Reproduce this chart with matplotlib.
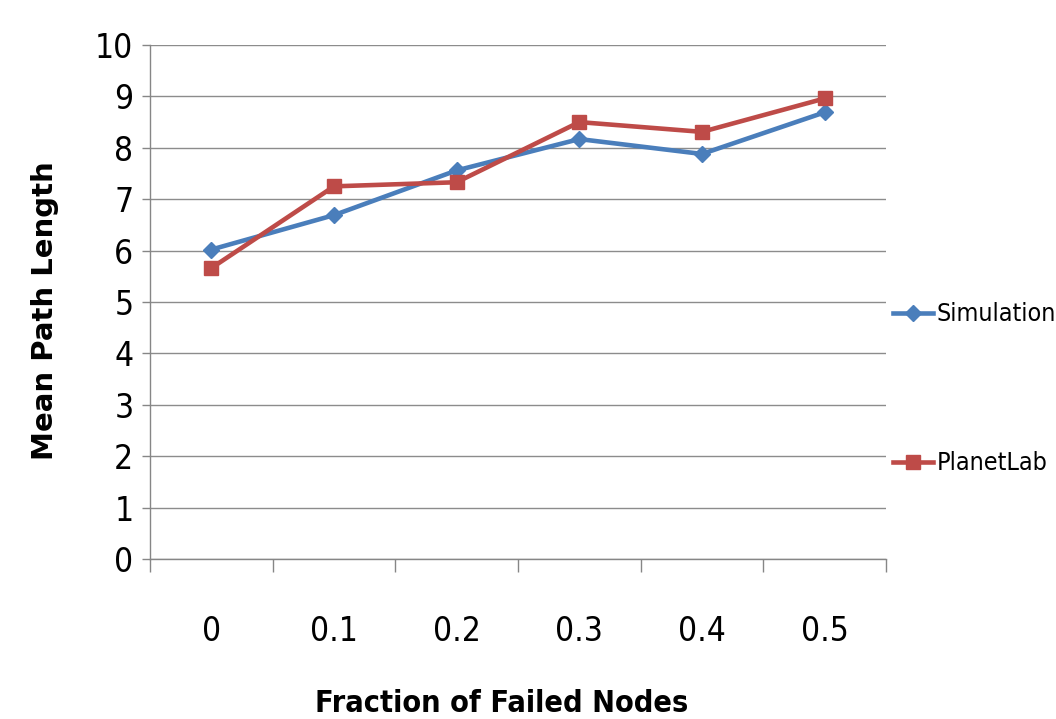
import os
import matplotlib
matplotlib.use("Agg")
import matplotlib.pyplot as plt
from matplotlib import font_manager as fm
from matplotlib.font_manager import FontProperties

categories = ["0", "0.1", "0.2", "0.3", "0.4", "0.5"]
simulation = [6.02, 6.69, 7.56, 8.17, 7.88, 8.69]
planetlab = [5.66, 7.25, 7.33, 8.50, 8.31, 8.96]
y_ticks = [0, 1, 2, 3, 4, 5, 6, 7, 8, 9, 10]
series_names = ["Simulation", "PlanetLab"]

# ---- find a condensed / narrow font file if any is installed ----
files = [f.fname for f in fm.fontManager.ttflist]
prefs = ["liberationsansnarrow", "dejavusanscondensed", "robotocondensed",
         "opensans_condensed", "opensanscondensed", "notosans-condensed",
         "condensed", "narrow"]
bad = ["italic", "oblique", "light", "thin", "semi", "extra", "black",
       "medium", "mono", "serif"]


def find_font(bold):
    for p in prefs:
        for fn in files:
            b = os.path.basename(fn).lower().replace(" ", "")
            if p not in b:
                continue
            if any(x in b for x in bad):
                continue
            if ("bold" in b) != bold:
                continue
            return fn
    return None


reg_file = find_font(False)
bold_file = find_font(True)


def fp(size, bold=False):
    f = bold_file if bold else reg_file
    if f:
        return FontProperties(fname=f, size=size)
    return FontProperties(family="DejaVu Sans", size=size,
                          weight="bold" if bold else "normal")


W, H = 1056, 719
fig = plt.figure(figsize=(W / 100, H / 100), dpi=100)
ax = fig.add_axes([150 / W, 1 - 559 / H, (886 - 150) / W, (559 - 45) / H])

x = list(range(len(categories)))
blue = "#4A7EBB"
red = "#BE4B48"
ax.plot(x, simulation, color=blue, lw=3.3, marker="D", markersize=8.5,
        label=series_names[0], zorder=3)
ax.plot(x, planetlab, color=red, lw=3.3, marker="s", markersize=9.5,
        label=series_names[1], zorder=3)

ax.set_xlim(-0.5, len(categories) - 0.5)
ax.set_ylim(0, 10)
ax.set_yticks(y_ticks)
ax.set_yticklabels([str(v) for v in y_ticks], fontproperties=fp(24))
ax.set_xticks(x)
ax.set_xticklabels(categories, fontproperties=fp(24))
ax.set_xticks([i - 0.5 for i in range(len(categories) + 1)], minor=True)
ax.tick_params(axis="x", which="major", length=0, pad=40)
ax.tick_params(axis="x", which="minor", length=9.5, color="#868686", width=1)
ax.tick_params(axis="y", length=6, color="#868686", width=1, pad=6)

ax.grid(axis="y", color="#8C8C8C", lw=1)
ax.set_axisbelow(True)
for s in ["top", "right"]:
    ax.spines[s].set_visible(False)
for s in ["left", "bottom"]:
    ax.spines[s].set_color("#868686")
    ax.spines[s].set_linewidth(1)

fig.text(45 / W, 1 - 311 / H, "Mean Path Length", rotation=90, ha="center",
         va="center", fontsize=21, fontweight="bold", fontfamily="DejaVu Sans")
fig.text(502 / W, 1 - 704 / H, "Fraction of Failed Nodes", ha="center",
         va="center", fontproperties=fp(22, bold=True))

leg = fig.legend(loc="center left", bbox_to_anchor=(893 / W, 1 - 389 / H),
                 frameon=False, prop=fp(18),
                 handlelength=1.6, handletextpad=0.15, labelspacing=5.0,
                 borderaxespad=0, borderpad=0)

fig.savefig("out.png", dpi=100)
